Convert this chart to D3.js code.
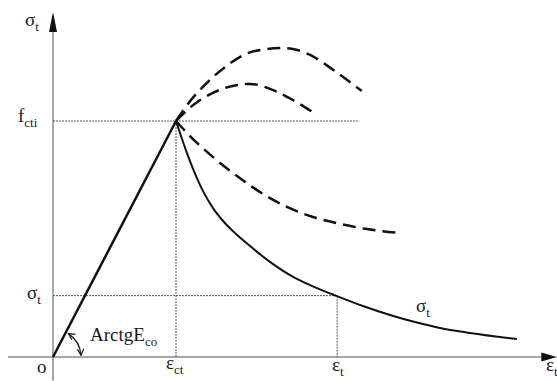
<!DOCTYPE html>
<html>
<head>
<meta charset="utf-8">
<script src="https://cdn.jsdelivr.net/npm/d3@7"></script>
<style>
  html, body { margin: 0; padding: 0; background: #fff; }
  text { font-family: "Liberation Serif", "DejaVu Serif", serif; fill: #1a1a1a; }
</style>
</head>
<body>
<div id="chart"></div>
<script>
// strain in units of eps_ct, stress in units of f_cti
var solidCurve = [[1.000, 1.000], [1.041, 0.936], [1.089, 0.864], [1.146, 0.788], [1.220, 0.703],
  [1.301, 0.631], [1.390, 0.572], [1.488, 0.521], [1.602, 0.470], [1.764, 0.403],
  [1.967, 0.335], [2.146, 0.292], [2.309, 0.258], [2.520, 0.216], [2.740, 0.178],
  [2.943, 0.148], [3.146, 0.123], [3.390, 0.102], [3.772, 0.076]];
var dashUpper = [[1.00, 1.00], [1.11, 1.081], [1.25, 1.161], [1.42, 1.237], [1.55, 1.280],
  [1.74, 1.305], [1.85, 1.309], [1.95, 1.305], [2.09, 1.280], [2.28, 1.216], [2.51, 1.127]];
var dashMiddle = [[1.00, 1.00], [1.14, 1.068], [1.30, 1.119], [1.50, 1.153], [1.60, 1.157],
  [1.79, 1.131], [1.95, 1.089], [2.11, 1.038]];
var dashLower = [[1.000, 1.000], [1.114, 0.936], [1.301, 0.847], [1.496, 0.767], [1.707, 0.691],
  [1.902, 0.636], [2.114, 0.593], [2.333, 0.564], [2.553, 0.542], [2.837, 0.525]];
var linearPart = [[0, 0], [1, 1]];
var epsT = 2.31, sigT = 0.26;

var svgWidth = 557, svgHeight = 381;
var svg = d3.select("#chart").append("svg")
    .attr("width", svgWidth)
    .attr("height", svgHeight);

// scales: origin at (53, 357), eps_ct at 176, f_cti at 121
var x = d3.scaleLinear().domain([0, 1]).range([53, 176]);
var y = d3.scaleLinear().domain([0, 1]).range([357, 121]);

var defs = svg.append("defs");
defs.append("marker")
    .attr("id", "arr")
    .attr("viewBox", "0 0 10 10")
    .attr("refX", 9).attr("refY", 5)
    .attr("markerWidth", 8).attr("markerHeight", 8)
    .attr("markerUnits", "userSpaceOnUse")
    .attr("orient", "auto-start-reverse")
    .append("path")
    .attr("d", "M1,1 L9,5 L1,9")
    .attr("fill", "none")
    .attr("stroke", "#222")
    .attr("stroke-width", 1.6);

// axes
svg.append("line")
    .attr("x1", x(-0.366)).attr("x2", x(4.05))
    .attr("y1", y(0)).attr("y2", y(0))
    .attr("stroke", "#8a8a8a").attr("stroke-width", 1.5);
svg.append("line")
    .attr("x1", x(0)).attr("x2", x(0))
    .attr("y1", y(-0.1)).attr("y2", y(1.4))
    .attr("stroke", "#8a8a8a").attr("stroke-width", 1.5);
// arrow heads
svg.append("path")
    .attr("d", "M" + x(4.1) + "," + y(0) + " l-16,-4.5 l0,9 Z")
    .attr("fill", "#111");
svg.append("path")
    .attr("d", "M" + x(0) + "," + y(1.462) + " l-4,20 l8,0 Z")
    .attr("fill", "#111");

// dotted guides
var guides = [
  [[0, 1], [2.49, 1]],
  [[1, 1], [1, 0]],
  [[0, sigT], [epsT, sigT]],
  [[epsT, sigT], [epsT, 0]]
];
var line = d3.line().x(function(d) { return x(d[0]); }).y(function(d) { return y(d[1]); });
svg.selectAll(".guide")
    .data(guides)
    .enter()
    .append("path")
    .attr("class", "guide")
    .attr("d", line)
    .attr("fill", "none")
    .attr("stroke", "#555")
    .attr("stroke-width", 1)
    .attr("stroke-dasharray", "2,1");

// linear branch
svg.append("path")
    .attr("d", line(linearPart))
    .attr("fill", "none")
    .attr("stroke", "#111")
    .attr("stroke-width", 2.5);

var curve = d3.line()
    .x(function(d) { return x(d[0]); })
    .y(function(d) { return y(d[1]); })
    .curve(d3.curveMonotoneX);

svg.append("path")
    .attr("d", curve(solidCurve))
    .attr("fill", "none")
    .attr("stroke", "#111")
    .attr("stroke-width", 2);

svg.selectAll(".dash")
    .data([dashUpper, dashMiddle, dashLower])
    .enter()
    .append("path")
    .attr("class", "dash")
    .attr("d", curve)
    .attr("fill", "none")
    .attr("stroke", "#111")
    .attr("stroke-width", 2.5)
    .attr("stroke-dasharray", "13,7");

// angle arc with two arrows
var ang0 = Math.atan2(y(1) - y(0), x(1) - x(0));
var p = d3.path();
p.arc(x(0), y(0), 28, ang0 + 0.1, -0.06, false);
svg.append("path")
    .attr("d", p.toString())
    .attr("fill", "none")
    .attr("stroke", "#222")
    .attr("stroke-width", 1.3)
    .attr("marker-start", "url(#arr)")
    .attr("marker-end", "url(#arr)");

// labels
function label(px, py, main, sub, size) {
    var t = svg.append("text")
        .attr("x", px).attr("y", py)
        .style("font-size", (size || 19) + "px");
    t.append("tspan").text(main);
    if (sub) {
        t.append("tspan")
            .attr("dy", 5)
            .style("font-size", "13px")
            .text(sub);
    }
}
label(25, 26, "σ", "t");
label(18, 122, "f", "cti");
label(27, 299, "σ", "t");
label(37, 373, "o");
label(90, 341, "ArctgE", "co");
label(166, 369, "ε", "ct");
label(332, 371, "ε", "t");
label(416, 312, "σ", "t");
label(546, 371, "ε", "t");
</script>
</body>
</html>
